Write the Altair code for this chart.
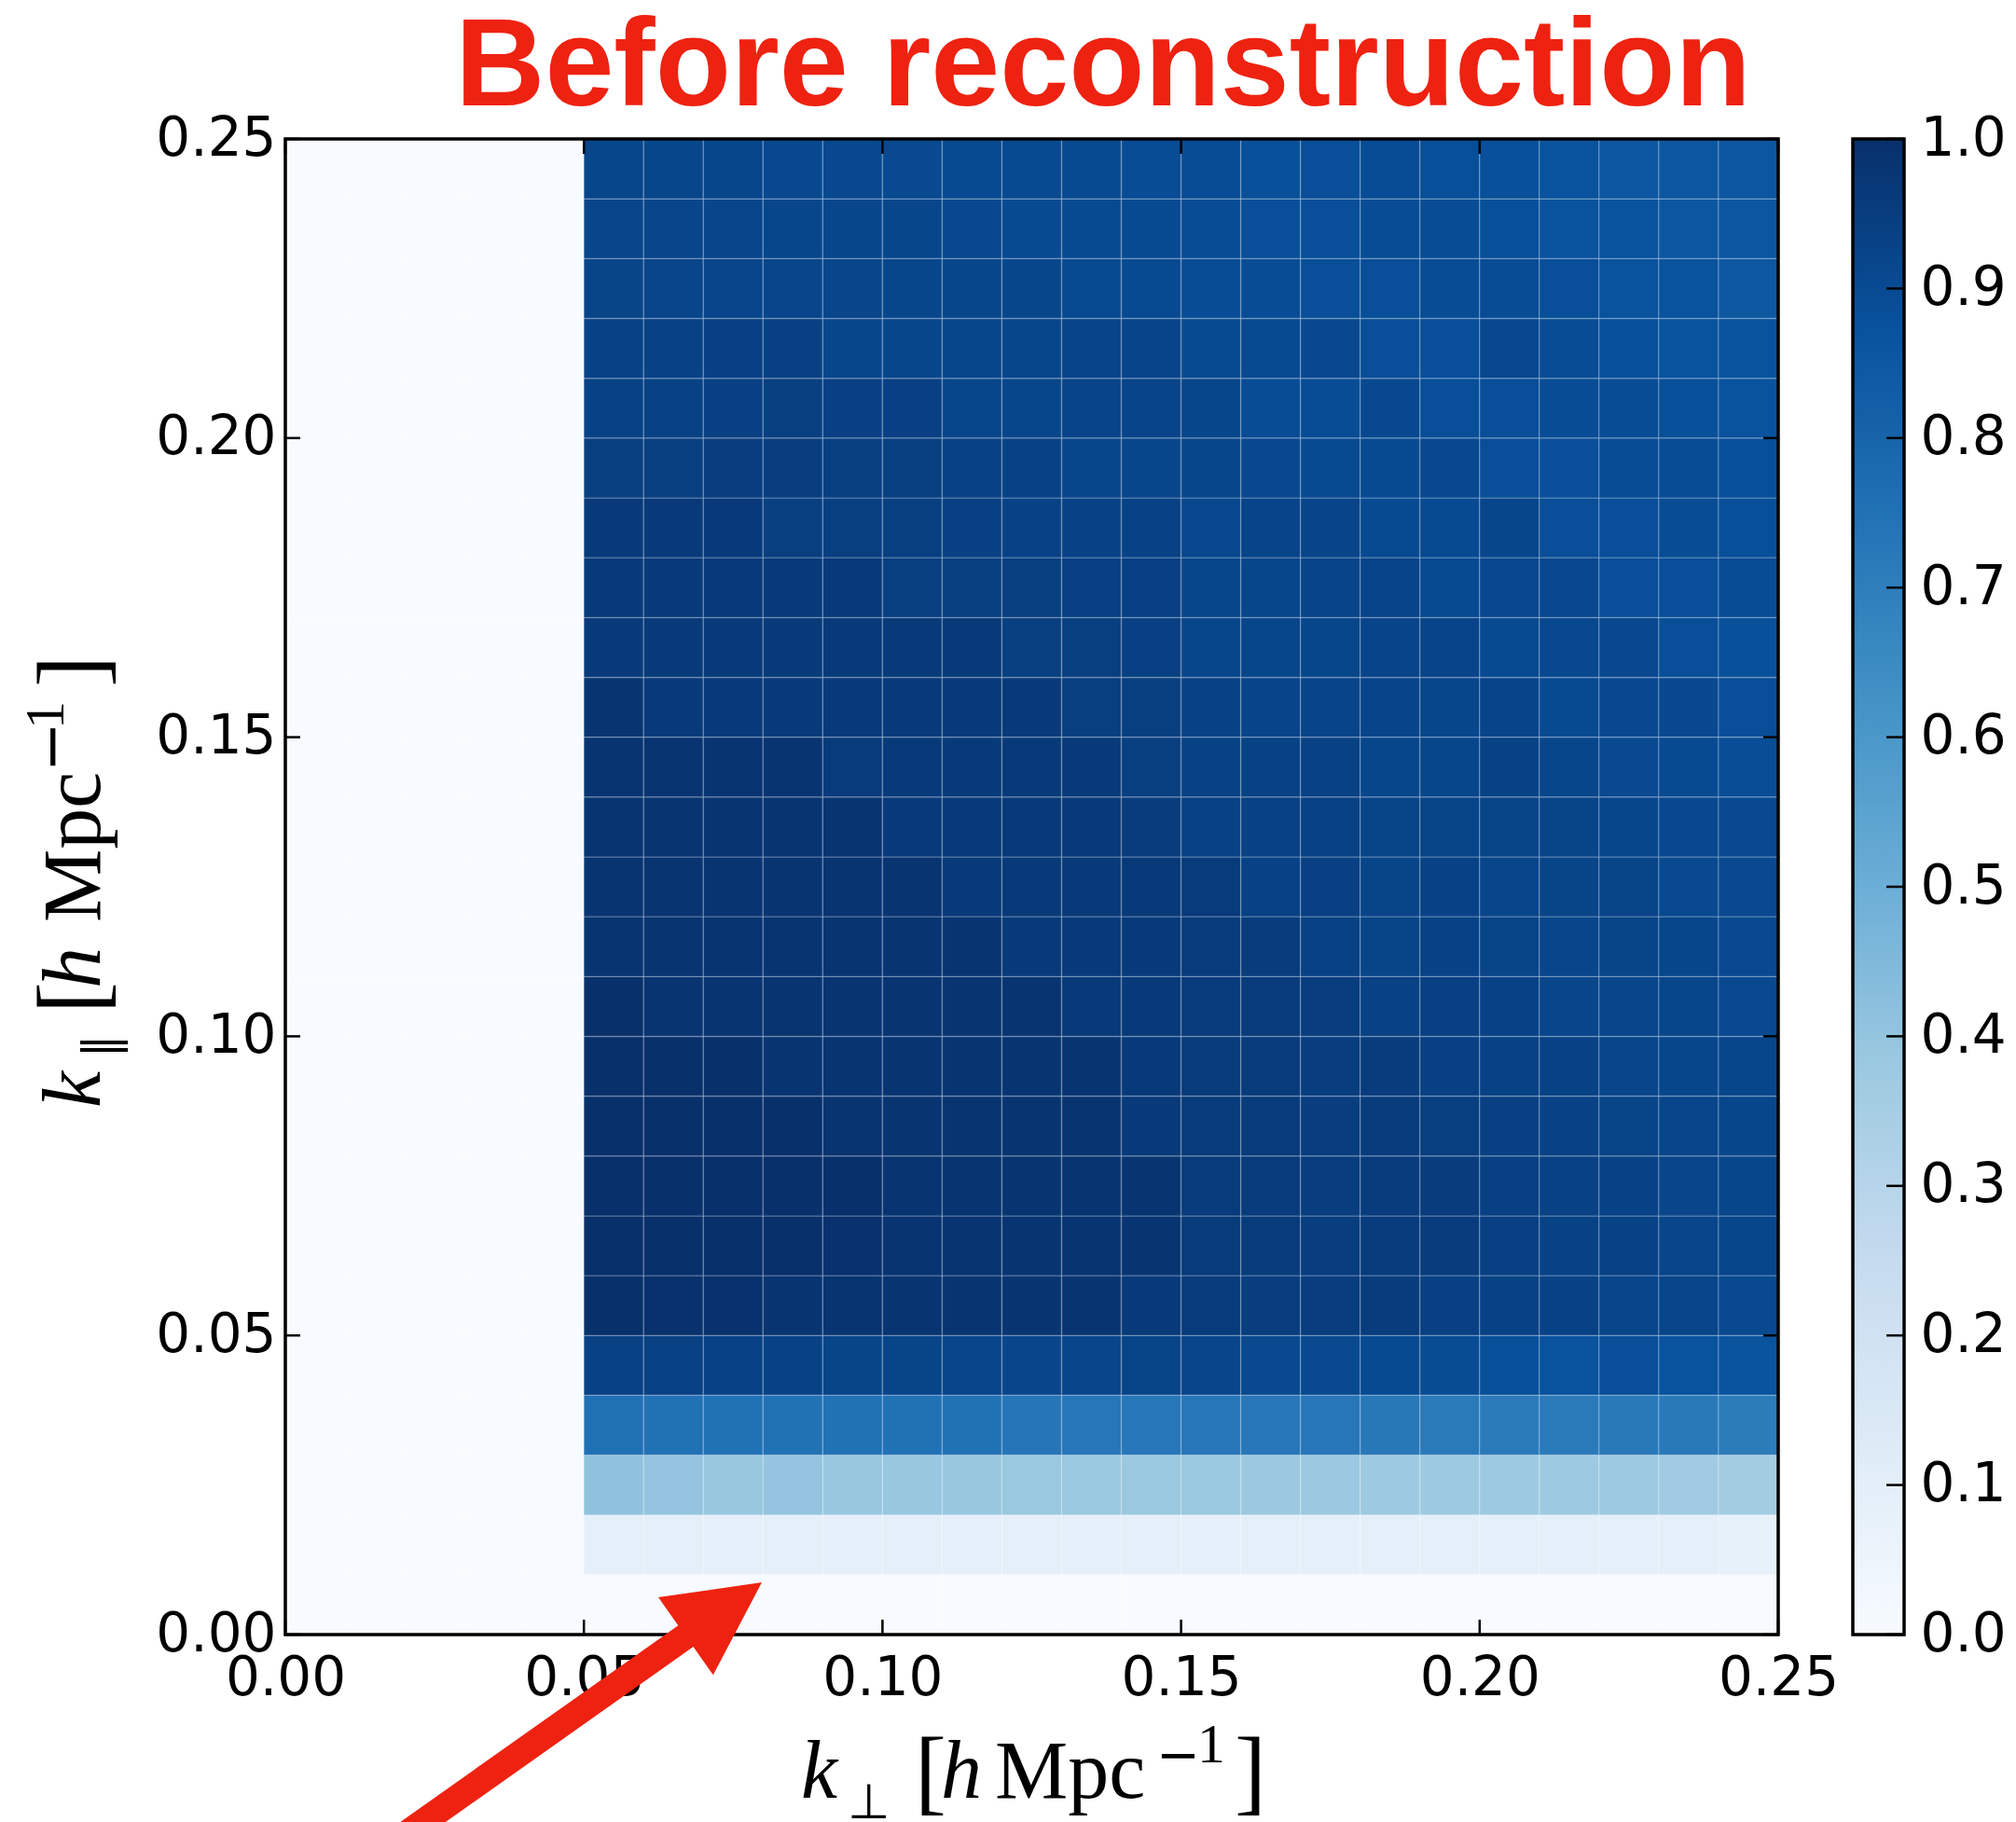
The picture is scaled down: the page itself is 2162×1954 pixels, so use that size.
import altair as alt
import pandas as pd

# ---------------------------------------------------------------------------
# Correlation per (k_perp, k_par) bin, bins of 0.01 h/Mpc.
# Rows run from the top bin (k_par 0.24-0.25) down to k_par 0.01-0.02;
# columns run over k_perp 0.05-0.06 ... 0.24-0.25.
# Bins with k_perp < 0.05 or k_par < 0.01 carry no signal (0).
# ---------------------------------------------------------------------------
corr_rows = [
    [0.917, 0.917, 0.917, 0.909, 0.909, 0.905, 0.902, 0.902, 0.902, 0.894, 0.894, 0.879, 0.886, 0.894, 0.882, 0.879, 0.871, 0.856, 0.856, 0.856],
    [0.920, 0.920, 0.920, 0.917, 0.917, 0.917, 0.909, 0.902, 0.902, 0.902, 0.894, 0.886, 0.886, 0.894, 0.894, 0.882, 0.871, 0.871, 0.856, 0.856],
    [0.925, 0.920, 0.920, 0.920, 0.920, 0.917, 0.917, 0.917, 0.902, 0.902, 0.894, 0.894, 0.886, 0.886, 0.894, 0.894, 0.886, 0.871, 0.871, 0.848],
    [0.932, 0.932, 0.939, 0.939, 0.917, 0.917, 0.917, 0.917, 0.924, 0.924, 0.902, 0.902, 0.909, 0.886, 0.886, 0.909, 0.894, 0.882, 0.871, 0.871],
    [0.932, 0.932, 0.939, 0.943, 0.939, 0.939, 0.917, 0.917, 0.924, 0.924, 0.917, 0.894, 0.894, 0.909, 0.886, 0.886, 0.894, 0.894, 0.882, 0.871],
    [0.943, 0.943, 0.947, 0.947, 0.943, 0.943, 0.932, 0.932, 0.917, 0.917, 0.917, 0.909, 0.902, 0.902, 0.909, 0.886, 0.886, 0.894, 0.894, 0.882],
    [0.962, 0.962, 0.962, 0.943, 0.943, 0.943, 0.939, 0.932, 0.932, 0.932, 0.909, 0.924, 0.924, 0.902, 0.902, 0.917, 0.886, 0.886, 0.894, 0.882],
    [0.962, 0.962, 0.962, 0.962, 0.962, 0.943, 0.943, 0.943, 0.939, 0.939, 0.917, 0.917, 0.924, 0.924, 0.902, 0.909, 0.909, 0.886, 0.886, 0.894],
    [0.962, 0.962, 0.962, 0.962, 0.962, 0.962, 0.962, 0.943, 0.943, 0.939, 0.917, 0.917, 0.917, 0.924, 0.924, 0.902, 0.909, 0.909, 0.886, 0.879],
    [0.981, 0.962, 0.962, 0.962, 0.962, 0.962, 0.962, 0.962, 0.943, 0.943, 0.932, 0.924, 0.924, 0.924, 0.917, 0.924, 0.902, 0.909, 0.909, 0.886],
    [0.981, 0.981, 0.981, 0.981, 0.960, 0.962, 0.962, 0.962, 0.962, 0.943, 0.930, 0.930, 0.935, 0.915, 0.915, 0.930, 0.915, 0.905, 0.900, 0.890],
    [0.981, 0.981, 0.981, 0.981, 0.981, 0.962, 0.962, 0.962, 0.962, 0.955, 0.935, 0.935, 0.930, 0.925, 0.925, 0.925, 0.925, 0.915, 0.910, 0.905],
    [0.981, 0.981, 0.981, 0.981, 0.981, 0.981, 0.962, 0.962, 0.962, 0.962, 0.960, 0.930, 0.940, 0.925, 0.930, 0.920, 0.925, 0.925, 0.905, 0.905],
    [0.985, 0.985, 0.985, 0.981, 0.981, 0.981, 0.981, 0.962, 0.962, 0.962, 0.960, 0.955, 0.935, 0.925, 0.930, 0.925, 0.920, 0.925, 0.915, 0.905],
    [1.000, 0.985, 0.985, 0.985, 0.981, 0.981, 0.981, 0.981, 0.962, 0.962, 0.960, 0.955, 0.950, 0.935, 0.940, 0.930, 0.920, 0.920, 0.915, 0.905],
    [1.000, 1.000, 1.000, 0.985, 0.985, 0.981, 0.981, 0.981, 0.981, 0.962, 0.960, 0.960, 0.950, 0.955, 0.940, 0.930, 0.930, 0.920, 0.915, 0.915],
    [1.000, 1.000, 1.000, 1.000, 0.985, 0.985, 0.981, 0.981, 0.981, 0.962, 0.960, 0.960, 0.950, 0.955, 0.943, 0.940, 0.930, 0.925, 0.920, 0.915],
    [1.000, 1.000, 1.000, 1.000, 1.000, 0.985, 0.985, 0.981, 0.981, 0.981, 0.960, 0.960, 0.950, 0.955, 0.955, 0.940, 0.935, 0.930, 0.920, 0.915],
    [1.000, 1.000, 1.000, 1.000, 0.995, 0.985, 0.985, 0.981, 0.981, 0.981, 0.960, 0.960, 0.950, 0.955, 0.955, 0.940, 0.930, 0.930, 0.920, 0.915],
    [1.000, 0.995, 0.995, 0.985, 0.985, 0.985, 0.981, 0.981, 0.981, 0.962, 0.960, 0.950, 0.950, 0.955, 0.940, 0.930, 0.930, 0.920, 0.920, 0.905],
    [0.935, 0.935, 0.930, 0.930, 0.925, 0.925, 0.920, 0.920, 0.920, 0.925, 0.920, 0.905, 0.905, 0.900, 0.895, 0.880, 0.870, 0.885, 0.870, 0.865],
    [0.755, 0.750, 0.750, 0.750, 0.750, 0.750, 0.750, 0.735, 0.730, 0.730, 0.730, 0.730, 0.730, 0.725, 0.715, 0.715, 0.715, 0.720, 0.720, 0.710],
    [0.410, 0.400, 0.390, 0.400, 0.390, 0.390, 0.390, 0.385, 0.385, 0.385, 0.385, 0.380, 0.380, 0.375, 0.375, 0.375, 0.375, 0.375, 0.370, 0.360],
    [0.095, 0.095, 0.095, 0.095, 0.095, 0.095, 0.095, 0.095, 0.095, 0.095, 0.095, 0.095, 0.095, 0.095, 0.095, 0.095, 0.095, 0.095, 0.090, 0.080],
]

n_bins = 25             # 0.00 ... 0.25 in steps of 0.01
first_perp_bin = 5      # k_perp >= 0.05
first_par_bin = 1       # k_par  >= 0.01
bin_width = 0.01

axis_ticks = [0.00, 0.05, 0.10, 0.15, 0.20, 0.25]
cbar_ticks = [0.0, 0.1, 0.2, 0.3, 0.4, 0.5, 0.6, 0.7, 0.8, 0.9, 1.0]
plot_extent = [0.0, 0.25]
cbar_extent = [0.0, 1.0]

# matplotlib "Blues" anchor colours
blues = ["#f7fbff", "#deebf7", "#c6dbef", "#9ecae1", "#6baed6",
         "#4292c6", "#2171b5", "#08519c", "#08306b"]
blues_pos = [i / 8 for i in range(9)]

title_text = ["Before reconstruction"]
RED = "#ee2211"
SERIF = "Liberation Serif"
SANS = "DejaVu Sans"
LABEL_SIZE = 58

W, H = 1601, 1604      # heat-map plot area
CW = 55                # colour-bar width
TICK = 16

# ---------------------------------------------------------------------------
records = []
n_rows = len(corr_rows)
for j in range(n_bins):
    for i in range(n_bins):
        if i >= first_perp_bin and j >= first_par_bin:
            v = corr_rows[n_rows - j][i - first_perp_bin]
        else:
            v = 0.0
        records.append({
            "kperp0": round(i * bin_width, 2), "kperp1": round((i + 1) * bin_width, 2),
            "kpar0": round(j * bin_width, 2), "kpar1": round((j + 1) * bin_width, 2),
            "corr": v,
        })
cells = pd.DataFrame(records)
ticks_df = pd.DataFrame({"t": axis_ticks})
frame_df = pd.DataFrame({"lo": [plot_extent[0]], "hi": [plot_extent[1]]})

k_scale = alt.Scale(domain=plot_extent, nice=False, zero=False)

x_axis = alt.Axis(values=axis_ticks, format=".2f", title=None, ticks=False, tickSize=0,
                  domain=False, grid=False, labelFont=SANS, labelFontSize=LABEL_SIZE,
                  labelColor="black", labelPadding=18, labelFlush=False, labelOverlap=False)
y_axis = alt.Axis(values=axis_ticks, format=".2f", title=None, ticks=False, tickSize=0,
                  domain=False, grid=False, labelFont=SANS, labelFontSize=LABEL_SIZE,
                  labelColor="black", labelPadding=10, labelFlush=False, labelOverlap=False)

X = lambda f: alt.X(f, scale=k_scale, axis=x_axis)
Y = lambda f: alt.Y(f, scale=k_scale, axis=y_axis)

heat = alt.Chart(cells).mark_rect(stroke="white", strokeOpacity=0.2, strokeWidth=1.5).encode(
    x=X("kperp0:Q"), x2="kperp1:Q",
    y=Y("kpar0:Q"), y2="kpar1:Q",
    color=alt.Color("corr:Q", legend=None,
                    scale=alt.Scale(domain=blues_pos, range=blues, interpolate="rgb", clamp=True)),
)

# inward tick marks on all four sides
tick_style = dict(color="black", strokeWidth=2.5)
ticks_bottom = alt.Chart(ticks_df).mark_rule(**tick_style).encode(
    x=X("t:Q"), y=alt.value(H), y2=alt.value(H - TICK))
ticks_top = alt.Chart(ticks_df).mark_rule(**tick_style).encode(
    x=X("t:Q"), y=alt.value(0), y2=alt.value(TICK))
ticks_left = alt.Chart(ticks_df).mark_rule(**tick_style).encode(
    y=Y("t:Q"), x=alt.value(0), x2=alt.value(TICK))
ticks_right = alt.Chart(ticks_df).mark_rule(**tick_style).encode(
    y=Y("t:Q"), x=alt.value(W), x2=alt.value(W - TICK))

frame = alt.Chart(frame_df).mark_rect(filled=False, stroke="black", strokeWidth=3.5).encode(
    x=X("lo:Q"), x2="hi:Q", y=Y("lo:Q"), y2="hi:Q")

title = alt.Chart(pd.DataFrame({"s": title_text})).mark_text(
    font="Liberation Sans", fontWeight="bold", fontSize=133, color=RED,
    align="center", baseline="alphabetic",
).encode(x=alt.value(877), y=alt.value(-36), text="s:N")


def math_label(pieces, x0, y0, angle):
    """Axis label typeset piece by piece (italic symbols, sub/superscripts)."""
    layers = []
    for text, dx, dy, size, style, font in pieces:
        kw = dict(font=font, fontSize=size, fontStyle=style, color="black",
                  align="left", baseline="alphabetic", dx=dx, dy=dy)
        if angle:
            kw["angle"] = angle
        layers.append(
            alt.Chart(pd.DataFrame({"s": [text]})).mark_text(**kw).encode(
                x=alt.value(x0), y=alt.value(y0), text="s:N"))
    return layers


xlabel_pieces = [
    ("k", 0, 0, 88, "italic", SERIF),
    ("\u22a5", 50, 22, 52, "normal", SANS),
    ("[", 122, 5, 102, "normal", SERIF),
    ("h", 150, 0, 88, "italic", SERIF),
    ("Mpc", 208, 0, 88, "normal", SERIF),
    ("\u2212", 381, -27, 56, "normal", SANS),
    ("1", 425, -38, 60, "normal", SERIF),
    ("]", 465, 5, 102, "normal", SERIF),
]
ylabel_pieces = [
    ("k", 0, 0, 88, "italic", SERIF),
    ("\u2225", 53, 19, 52, "normal", SANS),
    ("[", 101, 3, 102, "normal", SERIF),
    ("h", 128, 0, 88, "italic", SERIF),
    ("Mpc", 199, 0, 88, "normal", SERIF),
    ("\u2212", 360, -30, 64, "normal", SANS),
    ("1", 406, -39, 60, "normal", SERIF),
    ("]", 451, 3, 102, "normal", SERIF),
]

xlabel = math_label(xlabel_pieces, 553, 1779, 0)
ylabel = math_label(ylabel_pieces, -199, 1039, 270)

# red call-out arrow pointing at the first k_par row
arrow_path = ("M0,0 L-52.2,99.3 L-73.5,69.1 L-339.2,257 L-387.7,257 "
              "L-89.7,46.3 L-111,16.1 Z")
arrow = alt.Chart(pd.DataFrame({"s": [0]})).mark_point(
    shape=arrow_path, size=4, filled=True, color=RED, opacity=1, strokeWidth=0,
).encode(x=alt.value(511), y=alt.value(1548))

heatmap = alt.layer(
    heat, ticks_bottom, ticks_top, ticks_left, ticks_right, frame,
    title, *xlabel, *ylabel, arrow,
).properties(width=W, height=H)

# ---------------------------------------------------------------------------
# colour bar
c_scale = alt.Scale(domain=cbar_extent, nice=False, zero=False)
c_axis = alt.Axis(values=cbar_ticks, format=".1f", title=None, orient="right", ticks=False,
                  tickSize=0, domain=False, grid=False, labelFont=SANS,
                  labelFontSize=LABEL_SIZE, labelColor="black", labelPadding=17,
                  labelFlush=False, labelOverlap=False)
cbar_df = pd.DataFrame({"lo": [cbar_extent[0]], "hi": [cbar_extent[1]]})
cticks_df = pd.DataFrame({"t": cbar_ticks})

gradient = alt.LinearGradient(
    gradient="linear", x1=0, x2=0, y1=1, y2=0,
    stops=[alt.GradientStop(offset=p, color=c) for p, c in zip(blues_pos, blues)],
)
cbar_fill = alt.Chart(cbar_df).mark_rect(fill=gradient).encode(
    y=alt.Y("lo:Q", scale=c_scale, axis=c_axis), y2="hi:Q",
    x=alt.value(0), x2=alt.value(CW))
cbar_ticks_rule = alt.Chart(cticks_df).mark_rule(color="black", strokeWidth=2.5).encode(
    y=alt.Y("t:Q", scale=c_scale, axis=c_axis), x=alt.value(CW), x2=alt.value(CW - 19))
cbar_frame = alt.Chart(cbar_df).mark_rect(filled=False, stroke="black", strokeWidth=3.5).encode(
    y=alt.Y("lo:Q", scale=c_scale, axis=c_axis), y2="hi:Q",
    x=alt.value(0), x2=alt.value(CW))

colorbar = alt.layer(cbar_fill, cbar_ticks_rule, cbar_frame).properties(width=CW, height=H)

chart = alt.hconcat(heatmap, colorbar, spacing=80, bounds="flush").properties(
    padding={"left": 19, "top": 6, "right": 0, "bottom": 0},
).configure_view(strokeWidth=0).configure(background="white")

chart.save("out.html", embed_options={"renderer": "svg", "actions": False})
